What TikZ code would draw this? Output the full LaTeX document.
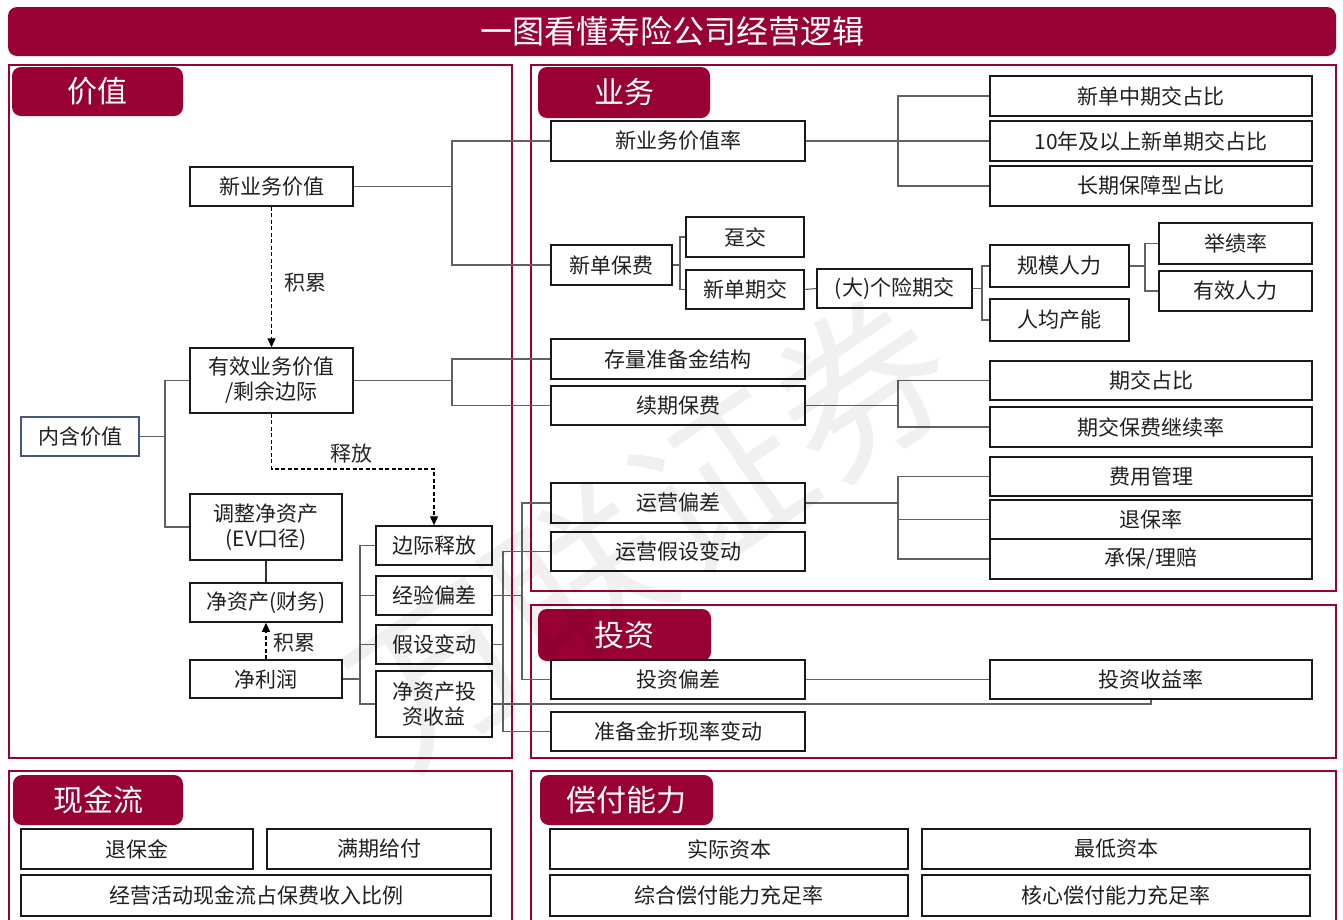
\documentclass[tikz,border=0pt]{standalone}
\usepackage{fontspec}
\setmainfont{Noto Sans CJK SC}
\usetikzlibrary{arrows.meta}
\definecolor{crim}{HTML}{990033}
\definecolor{evb}{HTML}{44597A}
\newcommand\bxn[7][]{\node[bx,minimum width={(#5-#3)*1pt},minimum height={(#6-#4)*1pt},#1] (#2) at ({(#3+#5)/2},{(#4+#6)/2}) {#7};}
\newcommand\tabn[6]{\node[tab,minimum width={(#4-#2)*1pt},minimum height={(#5-#3)*1pt}] (#1) at ({(#2+#4)/2},{(#3+#5)/2}) {#6};}
\begin{document}
\begin{tikzpicture}[x=1pt,y=-1pt,
  bx/.style={draw=black!90,line width=1.5pt,fill=white,inner sep=0pt,align=center,
    font=\fontsize{21}{25}\selectfont,text=black!88},
  ln/.style={draw=black!62,line width=1.1pt},
  dl/.style={draw=black,line width=1.3pt,dash pattern=on 4pt off 2.5pt,-{Triangle[length=9pt,width=8pt]}},
  panel/.style={draw=crim,line width=2.8pt},
  tab/.style={fill=crim,rounded corners=9pt,text=white,inner sep=0pt,font=\fontsize{30}{34}\selectfont},
  lbl/.style={font=\fontsize{21}{25}\selectfont,text=black!85,inner sep=0pt},
  wmk/.style={rotate=34,text=black,opacity=0.06,inner sep=0pt,font=\fontsize{170}{170}\selectfont}
]
\useasboundingbox (0,0) rectangle (1343,919);
\fill[white] (0,0) rectangle (1343,919);

% title
\node[fill=crim,rounded corners=9pt,minimum width=1328pt,minimum height=49pt,inner sep=0pt,
  text=white,font=\fontsize{32}{36}\selectfont] (title) at (672,31.5) {一图看懂寿险公司经营逻辑};

% panels
\draw[panel] (9,65) rectangle (512,758);
\draw[panel] (531,65) rectangle (1336,591);
\draw[panel] (531,605) rectangle (1336,758);
\draw[panel] (9,771) rectangle (512,930);
\draw[panel] (531,771) rectangle (1336,930);

% tabs
\tabn{tv}{12}{67}{183}{116}{价值}
\tabn{tb1}{538}{67}{710}{118}{业务}
\tabn{ti}{538}{609}{711}{661}{投资}
\tabn{tc}{13}{775}{183}{825}{现金流}
\tabn{ts}{540}{775}{713}{825}{偿付能力}

% value panel boxes
\bxn{nbv}{190}{167}{353}{206}{新业务价值}
\bxn{evif}{190}{348}{353}{413}{有效业务价值\\/剩余边际}
\bxn[draw=evb]{ev}{21}{417}{139}{456}{内含价值}
\bxn{ana}{190}{494}{342}{560}{调整净资产\\(EV口径)}
\bxn{na}{190}{583}{342}{622}{净资产(财务)}
\bxn{np}{190}{660}{342}{698}{净利润}
\bxn{mr}{376}{526}{492}{565}{边际释放}
\bxn{ed}{376}{576}{492}{615}{经验偏差}
\bxn{ac}{376}{625}{492}{664}{假设变动}
\bxn{nai}{376}{671}{492}{737}{净资产投\\资收益}

% business panel boxes
\bxn{nbvr}{551}{121}{805}{161}{新业务价值率}
\bxn{ra}{990}{76}{1312}{116}{新单中期交占比}
\bxn{rb}{990}{121}{1312}{161}{10年及以上新单期交占比}
\bxn{rc}{990}{166}{1312}{206}{长期保障型占比}
\bxn{nsp}{551}{245}{672}{285}{新单保费}
\bxn{dj}{686}{217}{804}{257}{趸交}
\bxn{xq}{686}{270}{804}{309}{新单期交}
\bxn{gx}{817}{269}{972}{308}{(大)个险期交}
\bxn{gm}{990}{245}{1129}{287}{规模人力}
\bxn{rj}{990}{299}{1129}{341}{人均产能}
\bxn{jj}{1159}{223}{1312}{264}{举绩率}
\bxn{yx}{1159}{271}{1312}{311}{有效人力}
\bxn{rs}{551}{339}{805}{379}{存量准备金结构}
\bxn{rp}{551}{386}{805}{425}{续期保费}
\bxn{qz}{990}{361}{1312}{400}{期交占比}
\bxn{qj}{990}{407}{1312}{447}{期交保费继续率}
\bxn{yy}{551}{483}{805}{523}{运营偏差}
\bxn{ys}{551}{532}{805}{571}{运营假设变动}
\bxn{fy}{990}{457}{1312}{496}{费用管理}
\bxn{tbl}{990}{500}{1312}{539}{退保率}
\bxn{cb}{990}{539}{1312}{579}{承保/理赔}

% investment panel boxes
\bxn{tz}{551}{660}{805}{699}{投资偏差}
\bxn{sy}{990}{660}{1312}{699}{投资收益率}
\bxn{zb}{551}{712}{805}{751}{准备金折现率变动}

% cash flow
\bxn{tbj}{21}{829}{253}{869}{退保金}
\bxn{mq}{267}{829}{491}{869}{满期给付}
\bxn{jy}{21}{875}{491}{916}{经营活动现金流占保费收入比例}

% solvency
\bxn{sj}{550}{829}{908}{869}{实际资本}
\bxn{zd}{922}{829}{1310}{869}{最低资本}
\bxn{zh}{550}{875}{908}{916}{综合偿付能力充足率}
\bxn{hx}{922}{875}{1310}{916}{核心偿付能力充足率}

% junctions
\coordinate (j1) at (165,436.5);
\coordinate (j2) at (452,186.5);
\coordinate (j3) at (452,380.5);
\coordinate (j4) at (898,141);
\coordinate (j5) at (680,265);
\coordinate (j6) at (982,288.5);
\coordinate (j7) at (1145,266);
\coordinate (j8) at (898,405.5);
\coordinate (j9) at (898,503);
\coordinate (j10) at (360,679);
\coordinate (j11) at (522,595.5);
\coordinate (j12) at (503,644.5);
\coordinate (k1) at (1151,704);
\coordinate (m1) at (0,469);

% connectors
\draw[ln] (ev.east) -- (j1);
\draw[ln] (evif.west) -| (j1) |- (ana.west);
\draw[ln] (nbv.east) -- (j2);
\draw[ln] (nbvr.west) -| (j2) |- (nsp.west);
\draw[ln] (evif.east) -- (j3);
\draw[ln] (rs.west) -| (j3) |- (rp.west);
\draw[ln] (nbvr.east) -- (rb.west);
\draw[ln] (ra.west) -| (j4) |- (rc.west);
\draw[ln] (nsp.east) -- (j5);
\draw[ln] (dj.west) -| (j5) |- (xq.west);
\draw[ln] (xq.east) -- (gx.west);
\draw[ln] (gx.east) -- (j6);
\draw[ln] (gm.west) -| (j6) |- (rj.west);
\draw[ln] (gm.east) -- (j7);
\draw[ln] (jj.west) -| (j7) |- (yx.west);
\draw[ln] (rp.east) -- (j8);
\draw[ln] (qz.west) -| (j8) |- (qj.west);
\draw[ln] (yy.east) -- (j9);
\draw[ln] (fy.west) -| (j9) |- (cb.west);
\draw[ln] (j9 |- tbl.west) -- (tbl.west);
\draw[ln] (tz.east) -- (sy.west |- tz.east);
\draw[ln] (nai.east) -- (k1) -- (k1 |- sy.south);
\draw[ln] (np.east) -- (j10);
\draw[ln] (mr.west) -| (j10) |- (nai.west);
\draw[ln] (j10 |- ed.west) -- (ed.west);
\draw[ln] (j10 |- ac.west) -- (ac.west);
\draw[ln] (ed.east) -- (j11);
\draw[ln] (yy.west) -| (j11) |- (tz.west);
\draw[ln] (ac.east) -- (j12);
\draw[ln] (ys.west) -| (j12) |- (zb.west);
\draw[draw=black!80,line width=1.1pt] (ana.south) -- (ana.south |- na.north);

% dashed arrows
\draw[dl] (nbv.south) -- (evif.north);
\draw[dl] (evif.south) -- (evif.south |- m1) -| (mr.north);
\draw[dl] (np.north) -- (na.south);

\node[lbl] (l1) at (305,283) {积累};
\node[lbl] (l2) at (351,454) {释放};
\node[lbl] (l3) at (294,643) {积累};

% watermark
\node[wmk] (wm) at (650,530) {万联证券};
\end{tikzpicture}
\end{document}
